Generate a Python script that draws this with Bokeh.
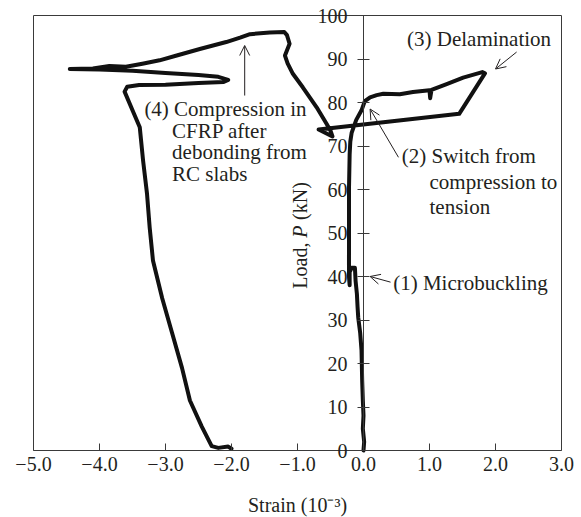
import math
from bokeh.plotting import figure
from bokeh.models import Range1d, FixedTicker, Label, Arrow, OpenHead, LinearAxis
from bokeh.embed import file_html
from bokeh.resources import INLINE

# ---- data (strain in 10^-3, load in kN), one traced path ----
strain = [0.0, 0.01, -0.01, 0.0, -0.01, -0.02, -0.03, -0.05, -0.08, -0.09, -0.1, -0.12, -0.13,
          -0.18, -0.21, -0.21, -0.22, -0.22, -0.22, -0.21, -0.2, -0.18, -0.11, -0.03, 0.02, 0.1,
          0.2, 0.3, 0.55, 0.75, 1.0, 1.01, 1.03, 1.26, 1.51, 1.8, 1.84, 1.45, -0.68, -0.47, -0.5,
          -0.56, -0.71, -0.92, -1.07, -1.15, -1.19, -1.12, -1.16, -1.2, -1.42, -1.72, -1.87, -2.08,
          -2.48, -2.83, -3.09, -3.35, -3.6, -3.85, -4.1, -4.45, -4.0, -3.5, -3.0, -2.5, -2.2, -2.05,
          -2.12, -2.5, -3.0, -3.4, -3.58, -3.62, -3.5, -3.39, -3.34, -3.28, -3.24, -3.19, -3.05,
          -2.9, -2.75, -2.63, -2.45, -2.3, -2.2, -2.05, -2.0]
load = [0.0, 2.0, 5.0, 8.0, 11.5, 16.0, 23.0, 27.0, 30.6, 33.0, 36.0, 39.0, 42.0,
        42.0, 41.0, 38.0, 40.0, 50.0, 60.0, 68.0, 71.0, 73.0, 76.0, 78.2, 80.3, 81.2,
        81.7, 82.0, 81.9, 82.4, 82.8, 81.0, 82.9, 84.2, 85.7, 87.0, 86.7, 77.4, 73.8, 72.2, 73.5,
        75.1, 78.9, 83.5, 86.6, 89.0, 90.8, 93.5, 95.5, 96.2, 96.1, 95.7, 94.9, 93.9,
        92.3, 90.8, 89.7, 88.9, 88.2, 88.4, 87.8, 87.7, 87.6, 87.3, 86.8, 86.3, 85.9, 85.2,
        84.7, 84.5, 84.1, 84.0, 83.6, 82.5, 78.2, 74.3, 66.7, 59.0, 51.3, 43.7, 35.0,
        27.0, 19.0, 11.5, 5.5, 1.0, 0.6, 0.9, 0.4]

x_ticks = [-5.0, -4.0, -3.0, -2.0, -1.0, 0.0, 1.0, 2.0, 3.0]
x_tick_labels = ["\u22125.0", "\u22124.0", "\u22123.0", "\u22122.0", "\u22121.0", "0.0", "1.0", "2.0", "3.0"]
y_ticks = [0, 10, 20, 30, 40, 50, 60, 70, 80, 90, 100]

X_MIN, X_MAX = x_ticks[0], x_ticks[-1]
Y_MIN, Y_MAX = y_ticks[0], y_ticks[-1]

FONT = "Liberation Serif"
TXT = "#231f20"
AXC = "#3a3a3a"
FS = "20px"
AFS = "21px"

# the frame covers the whole canvas; the boxed plot area is -5..3 x 0..100
W, H = 581, 517
PX_X = 66.0    # pixels per strain unit
PX_Y = 4.35    # pixels per kN
LEFT, TOP = 33, 15
x0 = X_MIN - LEFT / PX_X
x1 = x0 + W / PX_X
y1 = Y_MAX + TOP / PX_Y
y0 = y1 - H / PX_Y

p = figure(frame_width=W, frame_height=H, output_backend="svg", toolbar_location=None,
           x_range=Range1d(x0, x1), y_range=Range1d(y0, y1),
           x_axis_location=None, y_axis_location=None)
p.min_border = 0
p.min_border_left = p.min_border_right = p.min_border_top = p.min_border_bottom = 0
p.grid.visible = False
p.outline_line_color = None
p.background_fill_color = "white"
p.border_fill_color = "white"

# box around the plotting area (top, left, right edges; bottom edge is the x axis)
p.segment(x0=[X_MIN, X_MIN, X_MAX], y0=[Y_MAX, Y_MIN, Y_MIN],
          x1=[X_MAX, X_MIN, X_MAX], y1=[Y_MAX, Y_MAX, Y_MAX], line_color=AXC, line_width=1)

# x axis at load = 0
xax = LinearAxis(fixed_location=Y_MIN, ticker=FixedTicker(ticks=x_ticks), bounds=(X_MIN, X_MAX))
xax.major_label_overrides = {t: l for t, l in zip(x_ticks, x_tick_labels)}
xax.major_tick_in = 7
xax.major_tick_out = 0
xax.minor_tick_line_color = None
xax.axis_line_color = AXC
xax.major_tick_line_color = AXC
xax.major_label_text_font = FONT
xax.major_label_text_font_size = FS
xax.major_label_text_color = TXT
xax.major_label_standoff = 6
p.add_layout(xax, "below")

p.add_layout(Label(x=(X_MIN + X_MAX) / 2, y=-12.6, text="Strain (10\u207b\u00b3)", text_font=FONT,
                   text_font_size=FS, text_color=TXT, text_align="center", text_baseline="middle"))

# y axis at strain = 0
yax = LinearAxis(fixed_location=0, ticker=FixedTicker(ticks=y_ticks), bounds=(Y_MIN, Y_MAX))
yax.major_tick_in = 6
yax.major_tick_out = 6
yax.minor_tick_line_color = None
yax.axis_line_color = AXC
yax.major_tick_line_color = AXC
yax.major_label_text_font = FONT
yax.major_label_text_font_size = FS
yax.major_label_text_color = TXT
yax.major_label_standoff = 10
p.add_layout(yax, "left")

# y axis title (rotated) with italic P
p.add_layout(Label(x=-0.96, y=37.2, text="Load,", angle=math.pi / 2, text_font=FONT,
                   text_font_size=FS, text_color=TXT, text_align="left", text_baseline="middle"))
p.add_layout(Label(x=-0.96, y=48.9, text="P", angle=math.pi / 2, text_font=FONT,
                   text_font_style="italic", text_font_size=FS, text_color=TXT,
                   text_align="left", text_baseline="middle"))
p.add_layout(Label(x=-0.96, y=53.0, text="(kN)", angle=math.pi / 2, text_font=FONT,
                   text_font_size=FS, text_color=TXT, text_align="left", text_baseline="middle"))

# the curve
p.line(strain, load, line_width=4, line_color="#111111", line_join="round", line_cap="round")

# annotations
def lab(x, y, t):
    p.add_layout(Label(x=x, y=y, text=t, text_font=FONT, text_font_size=AFS, text_color=TXT,
                       text_align="left", text_baseline="middle"))

lab(0.66, 94.6, "(3) Delamination")
lab(0.58, 67.8, "(2) Switch from")
lab(1.0, 61.7, "compression to")
lab(1.0, 55.9, "tension")
lab(0.45, 38.4, "(1) Microbuckling")
lab(-3.32, 78.6, "(4) Compression in")
lab(-2.90, 73.4, "CFRP after")
lab(-2.90, 68.6, "debonding from")
lab(-2.90, 63.6, "RC slabs")

def arrow(xs, ys, xe, ye):
    p.add_layout(Arrow(end=OpenHead(size=10, line_width=1, line_color=TXT),
                       x_start=xs, y_start=ys, x_end=xe, y_end=ye,
                       line_width=1, line_color=TXT))

arrow(2.32, 91.6, 2.0, 87.7)
arrow(0.53, 67.4, 0.1, 78.5)
arrow(0.41, 38.7, 0.1, 40.0)
arrow(-1.8, 81.6, -1.8, 93.1)

open("out.html", "w").write(file_html(p, INLINE))
